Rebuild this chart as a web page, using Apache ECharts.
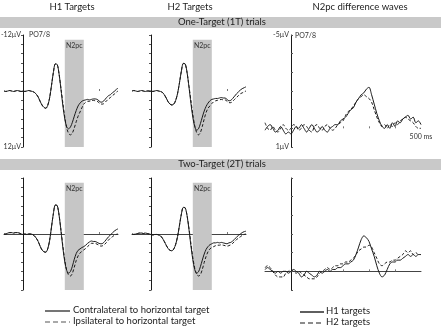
<!DOCTYPE html>
<html>
<head>
<meta charset="utf-8">
<script src="https://cdn.jsdelivr.net/npm/echarts@6/dist/echarts.min.js"></script>
<style>
  html, body { margin: 0; padding: 0; background: #fff; }
  #chart { width: 443px; height: 333px; }
</style>
</head>
<body>
<div id="chart"></div>
<script>
// time points in ms, -100 .. 500
var times = [-100,-90,-80,-70,-60,-50,-40,-30,-20,-10,0,10,20,30,40,50,60,70,80,90,100,
  110,120,130,140,150,160,170,180,190,200,210,220,230,240,250,260,270,280,290,300,
  310,320,330,340,350,360,370,380,390,400,410,420,430,440,450,460,470,480,490,500];

// One-Target (1T), H1 targets, PO7/8 (µV)
var aContra = [0.0,0.1,0.0,-0.1,0.0,0.1,0.0,-0.1,0.0,0.1,0.0,0.1,0.0,-0.1,0.0,0.1,0.3,0.7,1.3,2.2,3.0,
  3.5,3.7,3.1,1.5,-1.2,-4.0,-5.8,-5.7,-3.6,-0.3,3.2,6.0,7.7,8.1,7.7,6.7,5.4,4.2,3.2,2.6,
  2.2,2.0,1.9,1.8,1.9,1.8,1.7,1.7,1.8,2.1,2.4,2.3,1.9,1.4,1.0,0.8,0.4,0.1,-0.3,-0.6];
var aIpsi = [0.0,0.1,0.0,-0.1,0.0,0.1,0.0,-0.1,0.0,0.1,0.0,0.1,0.0,-0.1,0.0,0.1,0.3,0.7,1.3,2.2,3.0,
  3.5,3.7,3.1,1.5,-1.2,-4.0,-5.8,-5.7,-3.6,-0.5,2.6,5.6,7.9,9.1,9.4,9.0,7.9,6.6,5.4,4.5,
  3.6,2.8,2.4,2.2,2.2,2.1,2.0,2.1,2.2,2.5,2.8,2.8,2.5,2.1,1.7,1.4,1.0,0.7,0.3,0.0];

// One-Target (1T), H2 targets
var bContra = [0.0,-0.1,0.0,0.1,0.0,-0.1,0.0,0.1,0.0,0.0,0.0,0.1,0.0,-0.1,0.0,0.1,0.3,0.8,1.5,2.3,2.8,
  3.0,2.8,2.0,0.5,-1.8,-4.3,-5.9,-5.8,-3.9,-0.8,2.6,5.6,7.6,8.4,8.1,7.0,5.6,4.3,3.3,2.6,
  2.1,1.8,1.7,1.6,1.6,1.5,1.4,1.5,1.5,1.8,2.1,2.0,1.6,1.1,0.6,0.2,-0.2,-0.5,-0.7,-0.9];
var bIpsi = [0.0,-0.1,0.0,0.1,0.0,-0.1,0.0,0.1,0.0,0.0,0.0,0.1,0.0,-0.1,0.0,0.1,0.3,0.8,1.5,2.3,2.8,
  3.0,2.8,2.0,0.5,-1.8,-4.3,-5.9,-5.8,-3.9,-1.0,2.0,5.0,7.4,8.9,9.4,8.9,7.6,6.0,4.6,3.7,
  3.2,2.7,2.3,2.1,2.0,1.9,1.8,1.9,1.9,2.2,2.5,2.5,2.2,1.8,1.4,1.0,0.6,0.4,0.2,0.0];

// Two-Target (2T), H1 targets
var dContra = [0.0,0.0,-0.2,-0.3,-0.3,-0.2,-0.3,-0.3,-0.2,0.0,0.1,0.0,0.1,0.0,0.0,0.1,0.4,0.9,1.6,2.6,3.4,
  3.8,3.9,3.2,1.4,-1.5,-4.4,-6.2,-6.1,-4.0,-0.6,3.0,6.0,7.8,8.4,8.0,6.9,5.4,4.2,3.5,3.2,
  2.9,2.7,2.4,2.0,1.7,1.5,1.6,1.6,1.8,2.0,2.1,2.0,1.6,1.1,0.6,0.2,-0.2,-0.6,-0.9,-1.1];
var dIpsi = [0.0,0.0,-0.2,-0.3,-0.3,-0.2,-0.3,-0.3,-0.2,0.0,0.1,0.0,0.1,0.0,0.0,0.1,0.4,0.9,1.6,2.6,3.4,
  3.8,3.9,3.2,1.4,-1.5,-4.4,-6.2,-6.1,-4.0,-0.8,2.6,5.6,7.8,8.8,9.0,8.4,7.1,5.7,4.7,4.1,
  3.7,3.4,3.1,2.7,2.3,2.0,2.0,2.0,2.2,2.4,2.6,2.5,2.2,1.8,1.3,0.9,0.6,0.3,0.1,0.0];

// Two-Target (2T), H2 targets
var eContra = [0.0,0.1,0.0,-0.1,-0.2,-0.2,-0.1,-0.2,-0.1,0.0,0.1,0.2,0.1,0.1,0.2,0.4,0.9,1.6,2.4,3.1,3.5,
  3.6,3.2,2.2,0.5,-1.9,-4.3,-5.7,-5.6,-3.9,-0.9,2.5,5.5,7.6,8.4,8.1,7.0,5.6,4.3,3.3,2.7,
  2.3,2.1,1.9,1.9,1.8,1.9,1.8,1.9,2.0,2.1,1.9,1.8,1.5,1.1,0.7,0.3,0.0,-0.3,-0.5,-0.6];
var eIpsi = [0.0,0.1,0.0,-0.1,-0.2,-0.2,-0.1,-0.2,-0.1,0.0,0.1,0.2,0.1,0.1,0.2,0.4,0.9,1.6,2.4,3.1,3.5,
  3.6,3.2,2.2,0.5,-1.9,-4.3,-5.7,-5.6,-3.9,-1.2,2.0,5.0,7.3,8.6,9.0,8.7,7.6,6.1,4.8,3.8,
  3.2,2.9,2.7,2.5,2.4,2.4,2.3,2.4,2.5,2.6,2.5,2.3,2.0,1.6,1.2,0.9,0.6,0.3,0.1,0.0];

// N2pc difference waves (contra - ipsi)
var cH1 = [0.1,-0.1,-0.2,0.0,0.2,0.1,-0.1,0.1,0.3,0.2,0.3,0.1,-0.1,0.0,-0.2,0.0,0.2,0.0,-0.2,0.0,0.2,
  0.1,-0.1,0.1,0.2,0.0,-0.1,-0.2,-0.2,-0.4,-0.5,-0.6,-0.8,-1.0,-1.1,-1.4,-1.6,-1.8,-1.9,-2.1,-2.2,
  -1.8,-1.3,-0.8,-0.4,-0.1,0.0,-0.2,0.0,-0.3,-0.1,-0.4,-0.3,-0.5,-0.6,-0.7,-0.5,-0.6,-0.3,-0.4,-0.2];
var cH2 = [-0.3,0.0,0.1,-0.1,0.1,0.2,0.0,-0.2,0.0,0.1,0.0,-0.2,-0.1,0.1,0.0,-0.2,-0.1,0.1,0.2,-0.1,-0.2,
  0.0,0.1,-0.1,-0.2,0.0,0.1,0.0,-0.2,-0.3,-0.4,-0.7,-0.9,-1.0,-1.2,-1.4,-1.6,-1.7,-1.8,-1.7,-1.6,
  -1.4,-1.0,-0.6,-0.3,-0.1,-0.2,0.0,-0.2,-0.1,-0.3,-0.2,-0.4,-0.5,-0.6,-0.5,-0.4,-0.3,-0.1,0.0,0.0];
var fH1 = [-0.1,-0.2,-0.1,0.0,0.1,0.0,0.1,0.0,0.0,0.1,0.0,-0.1,0.0,0.1,0.3,0.2,0.0,0.1,0.2,0.3,0.2,
  0.0,0.1,0.0,-0.1,0.0,-0.1,-0.1,-0.2,-0.2,-0.3,-0.4,-0.4,-0.5,-0.6,-0.9,-1.3,-1.7,-1.9,-1.8,-1.6,
  -1.2,-0.8,-0.3,0.1,0.3,0.2,-0.1,-0.4,-0.5,-0.5,-0.6,-0.6,-0.7,-0.8,-0.9,-0.8,-0.9,-0.8,-0.9,-0.9];
var fH2 = [-0.2,-0.3,-0.2,0.0,0.2,0.3,0.3,0.3,0.1,0.0,-0.1,0.0,0.1,0.0,0.1,0.2,0.3,0.4,0.4,0.4,0.3,
  0.1,0.0,-0.1,-0.2,-0.1,-0.2,-0.3,-0.3,-0.4,-0.4,-0.5,-0.5,-0.6,-0.7,-0.9,-1.1,-1.2,-1.3,-1.3,-1.4,
  -1.3,-1.0,-0.7,-0.4,-0.3,-0.4,-0.5,-0.5,-0.6,-0.6,-0.7,-0.8,-0.9,-1.1,-1.0,-1.1,-0.9,-1.0,-0.9,-0.9];

// N2pc window (ms)
var n2pcWin = [220, 320];

function pairs(vals) {
  return times.map(function (t, i) { return [t, vals[i]]; });
}

var FONT = 'Lato, "Open Sans", sans-serif';
var INK = '#1a1a1a';

var myChart = echarts.init(document.getElementById('chart'));

// panel boxes: [left, top, width, height]
var boxes = [
  [4, 35, 114, 112],   // 1T H1
  [132, 35, 114, 112], // 1T H2
  [265, 35, 156, 112], // 1T diff
  [4, 178, 114, 112],  // 2T H1
  [132, 178, 114, 112],// 2T H2
  [265, 178, 156, 112] // 2T diff
];

var grids = [], xAxes = [], yAxes = [], series = [];
boxes.forEach(function (b, i) {
  var isDiff = (i === 2 || i === 5);
  var bottomRow = i >= 3;
  var lim = isDiff ? [-5, 1, 1] : [-12, 12, 2];
  // shift axes so they cross at t = 0 ms and 0 µV
  var yShift = -b[2] * 100 / 600;
  var xShift = -b[3] * lim[1] / (lim[1] - lim[0]);
  grids.push({ left: b[0], top: b[1], width: b[2], height: b[3],
    containLabel: false, outerBoundsMode: 'none' });
  xAxes.push({
    gridIndex: i, type: 'value', min: -100, max: 500, position: 'bottom', offset: xShift,
    axisLine: { show: bottomRow, onZero: false, lineStyle: { color: '#444', width: 1 } },
    axisTick: { show: true, inside: true, length: 2, customValues: isDiff ? [200, 300, 400] : [300, 400],
      lineStyle: { color: '#777' } },
    axisLabel: { show: i === 2, customValues: [500], formatter: '{value} ms',
      fontSize: 7, fontFamily: FONT, color: '#333', margin: 5 },
    splitLine: { show: false }
  });
  yAxes.push({
    gridIndex: i, type: 'value', inverse: true, min: lim[0], max: lim[1], interval: lim[2],
    position: 'left', offset: yShift,
    axisLine: { show: true, onZero: false, lineStyle: { color: INK, width: 1 } },
    axisTick: { show: true, inside: isDiff, length: 2, lineStyle: { color: '#555' } },
    axisLabel: {
      show: i === 0 || i === 2, fontSize: 7, fontFamily: FONT, color: '#333', margin: 2,
      formatter: function (v) { return (v === lim[0] || v === lim[1]) ? v + 'µV' : ''; }
    },
    splitLine: { show: false }
  });
});

var waves = [
  [aContra, aIpsi], [bContra, bIpsi], [cH1, cH2],
  [dContra, dIpsi], [eContra, eIpsi], [fH1, fH2]
];
waves.forEach(function (w, i) {
  var isDiff = (i === 2 || i === 5);
  var solid = {
    type: 'line', xAxisIndex: i, yAxisIndex: i, data: pairs(w[0]),
    showSymbol: false, smooth: 0.3, z: 3,
    lineStyle: { color: INK, width: 1 }
  };
  if (!isDiff) {
    solid.markArea = {
      silent: true,
      itemStyle: { color: '#c6c6c6' },
      label: { show: true, position: 'insideTop', formatter: 'N2pc', fontSize: 7,
        fontFamily: FONT, color: '#333', distance: 3 },
      data: [[{ xAxis: n2pcWin[0], yAxis: -11 }, { xAxis: n2pcWin[1], yAxis: 12 }]]
    };
  }
  series.push(solid);
  series.push({
    type: 'line', xAxisIndex: i, yAxisIndex: i, data: pairs(w[1]),
    showSymbol: false, smooth: 0.3, z: 4,
    lineStyle: { color: INK, width: 1, type: [3, 2] }
  });
});

var graphics = [
  // column titles
  { type: 'text', x: 72, y: 2, style: { text: 'H1 Targets', fontSize: 9.5, fontFamily: FONT, fill: '#222', textAlign: 'center' } },
  { type: 'text', x: 190, y: 2, style: { text: 'H2 Targets', fontSize: 9.5, fontFamily: FONT, fill: '#222', textAlign: 'center' } },
  { type: 'text', x: 360, y: 2, style: { text: 'N2pc difference waves', fontSize: 9.5, fontFamily: FONT, fill: '#222', textAlign: 'center' } },
  // condition bars
  { type: 'rect', shape: { x: 0, y: 17, width: 441, height: 11 }, style: { fill: '#c9c9c9' }, z: -1 },
  { type: 'text', x: 222, y: 17, style: { text: 'One-Target (1T) trials', fontSize: 9.5, fontFamily: FONT, fill: '#222', textAlign: 'center' } },
  { type: 'rect', shape: { x: 0, y: 159, width: 441, height: 11 }, style: { fill: '#c9c9c9' }, z: -1 },
  { type: 'text', x: 222, y: 159, style: { text: 'Two-Target (2T) trials', fontSize: 9.5, fontFamily: FONT, fill: '#222', textAlign: 'center' } },
  // electrode labels
  { type: 'text', x: 29, y: 31, style: { text: 'PO7/8', fontSize: 7, fontFamily: FONT, fill: '#333' } },
  { type: 'text', x: 295, y: 32, style: { text: 'PO7/8', fontSize: 7, fontFamily: FONT, fill: '#333' } },
  // legend left
  { type: 'line', shape: { x1: 45, y1: 311, x2: 70, y2: 311 }, style: { stroke: INK, lineWidth: 1.2 } },
  { type: 'text', x: 73, y: 305, style: { text: 'Contralateral to horizontal target', fontSize: 9.5, fontFamily: FONT, fill: '#222' } },
  { type: 'line', shape: { x1: 45, y1: 322, x2: 70, y2: 322 }, style: { stroke: '#555', lineWidth: 1.2, lineDash: [5, 3] } },
  { type: 'text', x: 73, y: 316, style: { text: 'Ipsilateral to horizontal target', fontSize: 9.5, fontFamily: FONT, fill: '#222' } },
  // legend right
  { type: 'line', shape: { x1: 300, y1: 312, x2: 324, y2: 312 }, style: { stroke: INK, lineWidth: 1.4 } },
  { type: 'text', x: 326, y: 306, style: { text: 'H1 targets', fontSize: 9.5, fontFamily: FONT, fill: '#222' } },
  { type: 'line', shape: { x1: 300, y1: 323, x2: 324, y2: 323 }, style: { stroke: INK, lineWidth: 1.2, lineDash: [5, 3] } },
  { type: 'text', x: 326, y: 317, style: { text: 'H2 targets', fontSize: 9.5, fontFamily: FONT, fill: '#222' } }
];

var option = {
  animation: false,
  backgroundColor: '#fff',
  grid: grids,
  xAxis: xAxes,
  yAxis: yAxes,
  series: series,
  graphic: graphics
};
myChart.setOption(option);
</script>
</body>
</html>
